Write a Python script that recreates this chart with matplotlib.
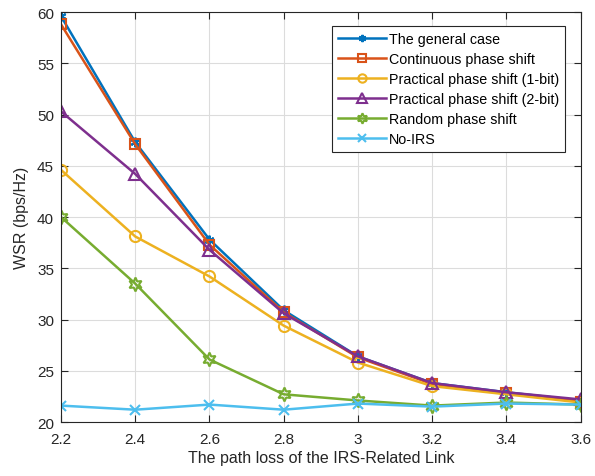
import matplotlib
matplotlib.use("Agg")
import matplotlib.pyplot as plt

x = [2.2, 2.4, 2.6, 2.8, 3.0, 3.2, 3.4, 3.6]
general = [59.6, 47.3, 37.8, 30.9, 26.4, 23.8, 22.9, 22.1]
continuous = [58.8, 47.1, 37.3, 30.7, 26.3, 23.7, 22.8, 22.0]
bit1 = [44.6, 38.1, 34.2, 29.4, 25.8, 23.5, 22.7, 21.9]
bit2 = [50.3, 44.2, 36.8, 30.6, 26.4, 23.8, 22.9, 22.2]
random_ps = [40.0, 33.5, 26.1, 22.7, 22.1, 21.6, 21.9, 21.7]
no_irs = [21.6, 21.2, 21.7, 21.2, 21.8, 21.5, 21.8, 21.7]

labels = ["The general case", "Continuous phase shift", "Practical phase shift (1-bit)",
          "Practical phase shift (2-bit)", "Random phase shift", "No-IRS"]
xticks = [2.2, 2.4, 2.6, 2.8, 3.0, 3.2, 3.4, 3.6]
xticklabels = ["2.2", "2.4", "2.6", "2.8", "3", "3.2", "3.4", "3.6"]
yticks = [20, 25, 30, 35, 40, 45, 50, 55, 60]

plt.rcParams['font.family'] = ['Liberation Sans', 'DejaVu Sans']

fig = plt.figure(figsize=(5.95, 4.77), dpi=100)
ax = fig.add_axes([0.1025, 0.1132, 0.8735, 0.8595])

colors = ['#0072BD', '#D95319', '#EDB120', '#7E2F8E', '#77AC30', '#4DBEEE']
markers = [(6, 2, 0), 's', 'o', '^', (6, 1, 0), 'x']
msizes = [7, 7, 8, 9, 10, 7]
series = [general, continuous, bit1, bit2, random_ps, no_irs]
for s, c, m, ms, lab in zip(series, colors, markers, msizes, labels):
    ax.plot(x, s, color=c, marker=m, markersize=ms, markerfacecolor='none',
            markeredgecolor=c, markeredgewidth=1.5, linewidth=1.8, label=lab)

ax.set_xlim(2.2, 3.6)
ax.set_ylim(20, 60)
ax.set_xticks(xticks)
ax.set_xticklabels(xticklabels)
ax.set_yticks(yticks)
ax.grid(True, color='#dcdcdc', linewidth=0.8)
ax.set_axisbelow(True)
ax.tick_params(direction='in', top=True, right=True, labelsize=11, colors='#262626',
               length=5, width=0.8)
ax.tick_params(axis='x', pad=7)
ax.tick_params(axis='y', pad=5)
for sp in ax.spines.values():
    sp.set_color('#262626')
    sp.set_linewidth(0.8)
ax.set_xlabel("The path loss of the IRS-Related Link", fontsize=11.5, color='#262626',
              labelpad=3)
ax.set_ylabel("WSR (bps/Hz)", fontsize=11.5, color='#262626', labelpad=6)

leg = ax.legend(loc='upper right', bbox_to_anchor=(0.97, 0.965), fontsize=10.3,
                frameon=True, fancybox=False, edgecolor='#262626', framealpha=1,
                labelspacing=0.42, handlelength=3.4, handletextpad=0.2,
                borderpad=0.4, borderaxespad=0.0, markerscale=0.75)
leg.get_frame().set_linewidth(0.8)

fig.savefig("out.png", dpi=100)
